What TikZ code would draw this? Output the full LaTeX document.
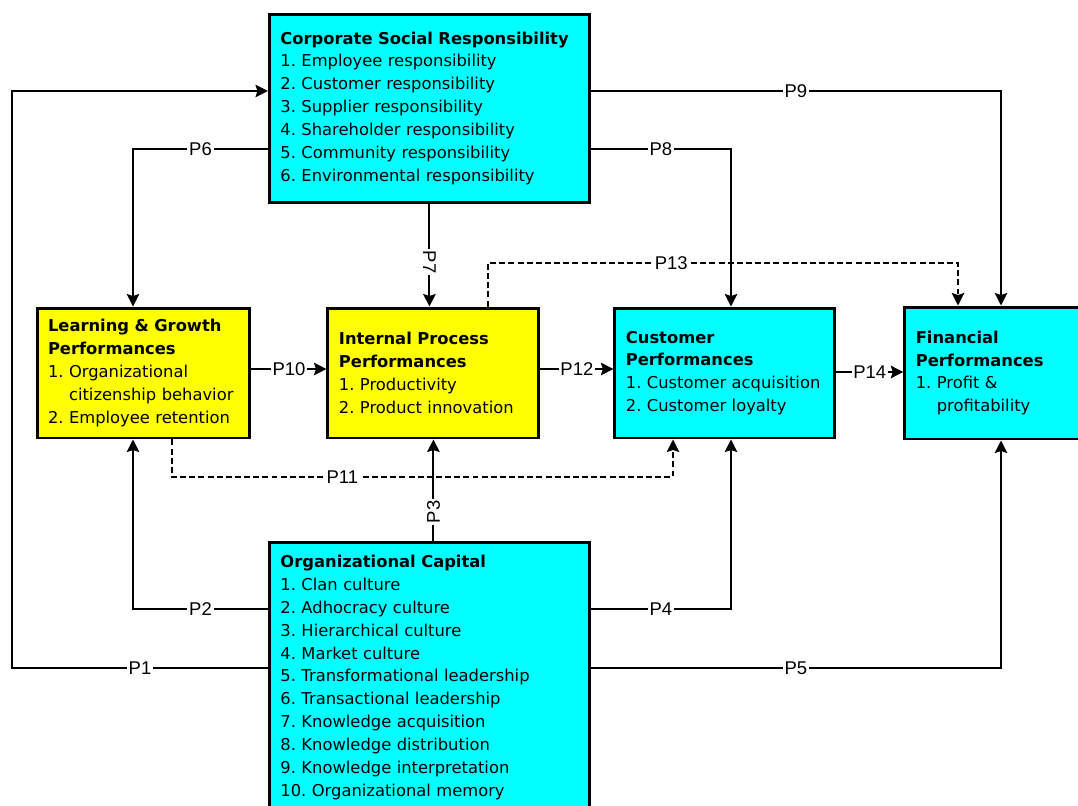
\documentclass[tikz,border=0pt]{standalone}
\usepackage{fontspec}
\setmainfont{DejaVu Sans}
\newfontfamily\labelfont{Liberation Sans}
\usetikzlibrary{
  arrows.meta,
  positioning
}
\frenchspacing
\hyphenpenalty=10000
\definecolor{boxcyan}{RGB}{0,255,255}
\definecolor{boxyellow}{RGB}{255,255,0}
\tikzset{
%
  % For the boxes of the model.
  box/.style={
    draw,
    line width=1.7pt,
    align=left,
    inner xsep=0.22cm,
    text width=#1,
    font=\fontsize{9.3}{13}\selectfont},
%
  % For the two fill colours.
  cyan box/.style={
    fill=boxcyan},
  yellow box/.style={
    fill=boxyellow},
%
  % For the relations between the boxes.
  conn/.style={
    line width=1.2pt,
    -{Stealth[length=2.5mm,
              width=2.5mm,
              inset=0.4mm]}},
%
  % For the relations that are only mediated.
  dashed conn/.style={
    conn,
    dash pattern=on 3.4pt off 1.8pt},
%
  % For the labels P1 ... P14.
  plabel/.style={
    fill=white,
    inner sep=1pt,
    font=\labelfont\fontsize{10.5}{12}\selectfont}
}

\begin{document}
\begin{tikzpicture}[x=0.02cm, y=-0.02cm]
  \useasboundingbox (0,0) rectangle (1078,805);
  \clip (0,0) rectangle (1078,805);

  \node[box=3.82cm, yellow box, minimum width=4.26cm, minimum height=2.6cm] (LG)
    at (143.5,373)
    {\textbf{Learning \& Growth}\\ \textbf{Performances}\\
     1. Organizational\\ \hphantom{1. }citizenship behavior\\
     2. Employee retention};
  \node[box=3.78cm, yellow box, minimum width=4.22cm, minimum height=2.6cm] (IPP)
    [right=1.5cm of LG]
    {\textbf{Internal Process}\\ \textbf{Performances}\\
     1. Productivity\\ 2. Product innovation};
  \node[box=3.96cm, cyan box, minimum width=4.4cm, minimum height=2.6cm] (CP)
    [right=1.46cm of IPP]
    {\textbf{Customer}\\ \textbf{Performances}\\
     1. Customer acquisition\\ 2. Customer loyalty};
  \node[box=3.96cm, cyan box, minimum width=4.4cm, minimum height=2.64cm] (FP)
    [right=1.34cm of CP]
    {\textbf{Financial}\\ \textbf{Performances}\\
     1. Profit \&\\ \hphantom{1. }profitability};
  \node[box=5.96cm, cyan box, minimum width=6.4cm, minimum height=3.76cm] (CSR)
    [above=2.06cm of IPP, xshift=-0.08cm]
    {\textbf{Corporate Social Responsibility}\\
     1. Employee responsibility\\ 2. Customer responsibility\\
     3. Supplier responsibility\\ 4. Shareholder responsibility\\
     5. Community responsibility\\ 6. Environmental responsibility};
  \node[box=5.96cm, cyan box, minimum width=6.4cm, minimum height=5.38cm] (OC)
    [below=2.04cm of IPP, xshift=-0.08cm]
    {\textbf{Organizational Capital}\\
     1. Clan culture\\ 2. Adhocracy culture\\ 3. Hierarchical culture\\
     4. Market culture\\ 5. Transformational leadership\\
     6. Transactional leadership\\ 7. Knowledge acquisition\\
     8. Knowledge distribution\\ 9. Knowledge interpretation\\
     10. Organizational memory};

  % Organizational capital
  \draw[conn] (OC.west |- 0,668) -- node[plabel] (p1) {P1} (12,668)
    |- (CSR.west |- 0,91);
  \draw[conn] (OC.west |- 0,609) -- node[plabel] (p2) {P2} (133,609)
    -- (LG.south -| 133,0);
  \draw[conn] (OC.north -| IPP.south) -- node[plabel, rotate=90, pos=0.29] (p3) {P3}
    (IPP.south);
  \draw[conn] (OC.east |- 0,609) -- node[plabel] (p4) {P4} (731,609)
    -- (CP.south -| 731,0);
  \draw[conn] (OC.east |- 0,668) -- node[plabel] (p5) {P5} (1001,668)
    -- (FP.south -| 1001,0);

  % Corporate social responsibility
  \draw[conn] (CSR.west |- 0,149) -- node[plabel] (p6) {P6} (133,149)
    -- (LG.north -| 133,0);
  \draw[conn] (CSR.south) -- node[plabel, rotate=-90, pos=0.57] (p7) {P7}
    (IPP.north -| CSR.south);
  \draw[conn] (CSR.east |- 0,149) -- node[plabel] (p8) {P8} (731,149)
    -- (CP.north -| 731,0);
  \draw[conn] (CSR.east |- 0,91) -- node[plabel] (p9) {P9} (1001,91)
    -- (FP.north -| 1001,0);

  % Between the performances
  \draw[conn] (LG.east |- 0,369) -- node[plabel] (p10) {P10} (IPP.west |- 0,369);
  \draw[dashed conn] (LG.south -| 172,0) -- (172,477)
    -- node[plabel, pos=0.34] (p11) {P11} (673,477) -- (CP.south -| 673,0);
  \draw[conn] (IPP.east |- 0,369) -- node[plabel] (p12) {P12} (CP.west |- 0,369);
  \draw[dashed conn] (IPP.north -| 488,0) -- (488,263)
    -- node[plabel, pos=0.39] (p13) {P13} (958,263) -- (FP.north -| 958,0);
  \draw[conn] (CP.east |- 0,372) -- node[plabel] (p14) {P14} (FP.west |- 0,372);
\end{tikzpicture}
\end{document}
